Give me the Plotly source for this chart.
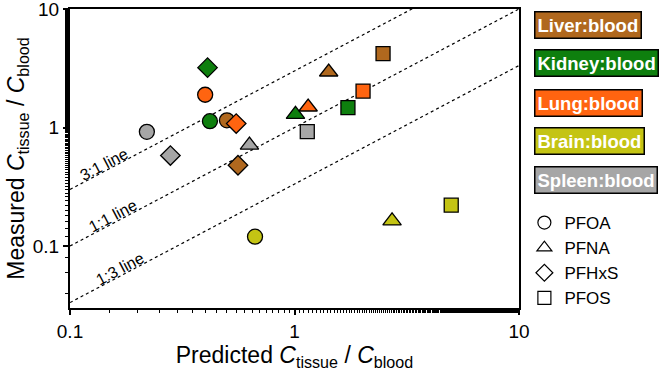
import plotly.graph_objects as go
import math

# ---- data ----
tissues = ["Liver:blood", "Kidney:blood", "Lung:blood", "Brain:blood", "Spleen:blood"]
tissue_colors = ["#B0681E", "#0E7F0E", "#FF6410", "#C4C414", "#A6A6A6"]
compounds = ["PFOA", "PFNA", "PFHxS", "PFOS"]
compound_symbols = ["circle", "triangle-up", "diamond", "square"]

# predicted / measured ratio, order: PFOA, PFNA, PFHxS, PFOS
pred_liver = [0.50, 1.42, 0.56, 2.48]
meas_liver = [1.15, 2.94, 0.48, 4.2]
pred_kidney = [0.42, 1.01, 0.41, 1.73]
meas_kidney = [1.13, 1.29, 3.2, 1.47]
pred_lung = [0.40, 1.15, 0.55, 2.02]
meas_lung = [1.89, 1.49, 1.08, 2.03]
pred_brain = [0.667, 2.72, None, 4.99]
meas_brain = [0.12, 0.163, None, 0.221]
pred_spleen = [0.22, 0.63, 0.28, 1.14]
meas_spleen = [0.92, 0.71, 0.58, 0.925]

pred = [pred_liver, pred_kidney, pred_lung, pred_brain, pred_spleen]
meas = [meas_liver, meas_kidney, meas_lung, meas_brain, meas_spleen]

ref_ratios = [3, 1, 1/3]
ref_labels = ["3:1 line", "1:1 line", "1:3 line"]
ref_label_x = [0.1456, 0.161, 0.173]
ref_x = [0.1, 10]

x_range = [0.1, 10]
y_range = [0.03, 10]
tick_vals = [0.1, 1, 10]
tick_text = ["0.1", "1", "10"]

FONT = "Arial, Liberation Sans, sans-serif"

fig = go.Figure()

# reference lines
for r in ref_ratios:
    fig.add_trace(go.Scatter(x=ref_x, y=[r * v for v in ref_x], mode="lines",
                             line=dict(color="black", width=1.2, dash="3px,3px"),
                             showlegend=False, hoverinfo="skip"))

# data points
for t, col, px_, my in zip(tissues, tissue_colors, pred, meas):
    for c, sym, xv, yv in zip(compounds, compound_symbols, px_, my):
        if xv is None:
            continue
        size = {"circle": 15, "triangle-up": 16, "diamond": 15, "square": 14}[sym]
        fig.add_trace(go.Scatter(x=[xv], y=[yv], mode="markers",
                                 marker=dict(symbol=sym, size=size, color=col,
                                             line=dict(color="black", width=1.3)),
                                 showlegend=False, name=t + " " + c))

# symbol legend traces
for c, sym in zip(compounds, compound_symbols):
    fig.add_trace(go.Scatter(x=[None], y=[None], mode="markers", name=c,
                             marker=dict(symbol=sym + "-open", size=13, color="black",
                                         line=dict(width=1.2)),
                             showlegend=True))

# reference line labels
ang = -math.degrees(math.atan(118 / 224.25))
for lab, lx, r in zip(ref_labels, ref_label_x, ref_ratios):
    fig.add_annotation(x=math.log10(lx), y=math.log10(r * lx), xref="x", yref="y",
                       text=lab, showarrow=False, textangle=ang, xshift=-3, yshift=6,
                       font=dict(family=FONT, size=16, color="black"))

# tissue legend boxes
box_y = [25, 62.5, 102.5, 141, 179.5]
for t, col, py in zip(tissues, tissue_colors, box_y):
    fig.add_annotation(x=(534 - 70) / 449, y=(308 - py) / 299, xref="paper", yref="paper",
                       xanchor="left", yanchor="middle", showarrow=False,
                       text="<b>" + t + "</b>", bgcolor=col, bordercolor="black",
                       borderwidth=1.5, borderpad=2,
                       font=dict(family=FONT, size=18.5, color="white"))

axis_common = dict(type="log", tickvals=tick_vals, ticktext=tick_text,
                   ticks="outside", ticklen=5, tickwidth=1.5, tickcolor="black",
                   minor=dict(ticks="outside", ticklen=3, tickwidth=1, tickcolor="black",
                              showgrid=False),
                   showline=True, linecolor="black", linewidth=2, mirror=True,
                   showgrid=False, zeroline=False, automargin=False,
                   ticklabeloverflow="allow",
                   tickfont=dict(family=FONT, size=19, color="black"))

fig.update_xaxes(range=[math.log10(x_range[0]), math.log10(x_range[1])],
                 title=dict(text="Predicted <i>C</i><sub>tissue</sub> / <i>C</i><sub>blood</sub>",
                            font=dict(family=FONT, size=23, color="black"), standoff=2),
                 **axis_common)
fig.update_yaxes(range=[math.log10(y_range[0]), math.log10(y_range[1])],
                 title=dict(text="Measured <i>C</i><sub>tissue</sub> / <i>C</i><sub>blood</sub>",
                            font=dict(family=FONT, size=23, color="black"), standoff=2),
                 **axis_common)

fig.update_layout(width=664, height=372, margin=dict(l=70, r=145, t=9, b=64),
                  paper_bgcolor="white", plot_bgcolor="white",
                  font=dict(family=FONT, color="black"),
                  legend=dict(x=1.012, y=(308 - 205) / 299, xanchor="left", yanchor="top",
                              font=dict(family=FONT, size=17, color="black"),
                              bgcolor="rgba(0,0,0,0)", tracegroupgap=0,
                              itemwidth=30))

pin = ("document.body.style.margin='0';document.body.style.padding='0';"
       "document.body.style.overflow='hidden';"
       "var d=document.getElementById('{plot_id}');"
       "d.style.position='fixed';d.style.top='0px';d.style.left='0px';")

fig.write_html("out.html", config={"displayModeBar": False}, post_script=pin)
